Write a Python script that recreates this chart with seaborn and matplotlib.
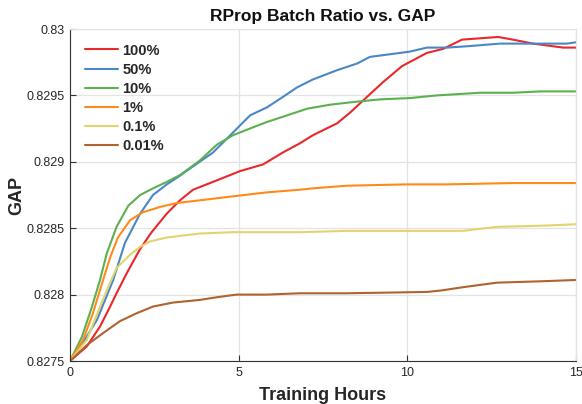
import numpy as np
import pandas as pd
import matplotlib
matplotlib.use("Agg")
import matplotlib.pyplot as plt
import seaborn as sns

# ---- data ----
hours_100 = [0, 0.5, 0.89, 1.19, 1.38, 1.68, 2.07, 2.42, 2.87, 3.26, 3.65, 4.35, 5.04, 5.72, 6.31, 6.82,
             7.2, 7.92, 8.3, 8.81, 9.28, 9.84, 10.58, 11.06, 11.62, 12.16, 12.69, 13.13, 13.73, 14.62, 15]
gap_100 = [0.8275, 0.82761, 0.82776, 0.82791, 0.82801, 0.82816, 0.82834, 0.82847, 0.82861, 0.82871, 0.82879,
           0.82886, 0.82893, 0.82898, 0.82907, 0.82914, 0.8292, 0.82929, 0.82937, 0.82949, 0.8296, 0.82972,
           0.82982, 0.82985, 0.82992, 0.82993, 0.82994, 0.82992, 0.82989, 0.82986, 0.82986]

hours_50 = [0, 0.39, 0.8, 1.28, 1.63, 2.08, 2.46, 2.87, 3.17, 3.56, 4.24, 4.83, 5.34, 5.84, 6.32, 6.73,
            7.2, 7.92, 8.51, 8.89, 9.49, 10.08, 10.58, 11.18, 11.77, 12.75, 13.73, 14.73, 15]
gap_50 = [0.8275, 0.82764, 0.82781, 0.82811, 0.82839, 0.82861, 0.82875, 0.82883, 0.82888, 0.82895, 0.82907,
          0.82922, 0.82935, 0.82941, 0.82949, 0.82956, 0.82962, 0.82969, 0.82974, 0.82979, 0.82981, 0.82983,
          0.82986, 0.82986, 0.82987, 0.82989, 0.82989, 0.82989, 0.8299]

hours_10 = [0, 0.35, 0.64, 0.89, 1.09, 1.38, 1.73, 2.08, 2.46, 2.88, 3.26, 3.85, 4.36, 4.83, 5.43, 5.84,
            6.32, 7.03, 7.71, 8.39, 9.19, 10.08, 10.88, 12.16, 13.13, 13.93, 15]
gap_10 = [0.8275, 0.82768, 0.8279, 0.82811, 0.82831, 0.82851, 0.82867, 0.82875, 0.8288, 0.82885, 0.8289,
          0.82901, 0.82913, 0.8292, 0.82926, 0.8293, 0.82934, 0.8294, 0.82943, 0.82945, 0.82947, 0.82948,
          0.8295, 0.82952, 0.82952, 0.82953, 0.82953]

hours_1 = [0, 0.39, 0.68, 0.98, 1.19, 1.42, 1.78, 2.16, 2.67, 3.17, 3.85, 4.83, 5.84, 6.82, 7.2, 8.21,
           9.99, 11.18, 13.13, 15]
gap_1 = [0.8275, 0.82766, 0.82786, 0.82811, 0.82828, 0.82843, 0.82856, 0.82862, 0.82866, 0.82869, 0.82871,
         0.82874, 0.82877, 0.82879, 0.8288, 0.82882, 0.82883, 0.82883, 0.82884, 0.82884]

hours_01 = [0, 0.5, 0.89, 1.19, 1.38, 1.78, 2.08, 2.37, 2.87, 3.85, 4.83, 6.82, 8.21, 9.99, 11.65, 12.66,
            14.14, 15]
gap_01 = [0.8275, 0.82766, 0.82791, 0.82809, 0.8282, 0.8283, 0.82836, 0.8284, 0.82843, 0.82846, 0.82847,
          0.82847, 0.82848, 0.82848, 0.82848, 0.82851, 0.82852, 0.82853]

hours_001 = [0, 0.5, 0.98, 1.48, 1.98, 2.46, 3.05, 3.85, 4.35, 4.94, 5.83, 6.82, 8.21, 10.58, 10.97, 11.77,
             12.66, 13.93, 15]
gap_001 = [0.8275, 0.82762, 0.82771, 0.8278, 0.82786, 0.82791, 0.82794, 0.82796, 0.82798, 0.828, 0.828,
           0.82801, 0.82801, 0.82802, 0.82803, 0.82806, 0.82809, 0.8281, 0.82811]

series_names = ["100%", "50%", "10%", "1%", "0.1%", "0.01%"]
series_hours = [hours_100, hours_50, hours_10, hours_1, hours_01, hours_001]
series_gap = [gap_100, gap_50, gap_10, gap_1, gap_01, gap_001]

x_ticks = [0, 5, 10, 15]
y_ticks = [0.8275, 0.828, 0.8285, 0.829, 0.8295, 0.83]
y_tick_labels = ["0.8275", "0.828", "0.8285", "0.829", "0.8295", "0.83"]

colors = ["#e8282a", "#4a87c6", "#5cb04e", "#ff8a1c", "#e2d46c", "#b0622f"]

# ---- build long-form frame ----
frames = []
for name, hx, gy in zip(series_names, series_hours, series_gap):
    frames.append(pd.DataFrame({"Training Hours": hx, "GAP": gy, "Batch": name}))
df = pd.concat(frames, ignore_index=True)

sns.set_theme(style="white")
plt.rcParams["font.family"] = ["Liberation Sans", "DejaVu Sans"]

fig = plt.figure(figsize=(5.82, 4.04), dpi=100)
ax = fig.add_axes([70 / 582, 1 - 361 / 404, 506 / 582, 332 / 404])

sns.lineplot(data=df, x="Training Hours", y="GAP", hue="Batch", hue_order=series_names,
             palette=colors, linewidth=1.5, ax=ax, estimator=None, sort=True)

ax.set_xlim(0, 15)
ax.set_ylim(0.8275, 0.83)
ax.set_xticks(x_ticks)
ax.set_xticklabels([str(t) for t in x_ticks])
ax.set_yticks(y_ticks)
ax.set_yticklabels(y_tick_labels)
ax.grid(True, color="#e3e3e3", linewidth=0.9)
ax.set_axisbelow(True)

for side in ["left", "bottom"]:
    ax.spines[side].set_color("#333333")
    ax.spines[side].set_linewidth(0.8)
for side in ["top", "right"]:
    ax.spines[side].set_color("#e3e3e3")
    ax.spines[side].set_linewidth(0.9)

ax.tick_params(axis="both", direction="in", length=4, width=0.8, colors="#333333",
               labelsize=9, labelcolor="#262626", pad=4)
ax.tick_params(top=False, right=False, bottom=True, left=True)

ax.set_xlabel("Training Hours", fontsize=13, fontweight="bold", color="#262626", labelpad=6)
ax.set_ylabel("GAP", fontsize=13, fontweight="bold", color="#262626", labelpad=1)
ax.set_title("RProp Batch Ratio vs. GAP", fontsize=12.5, fontweight="bold", color="#111111", pad=6)

leg = ax.legend(loc="upper left", frameon=False, handlelength=2.3, handletextpad=0.3,
                labelspacing=0.35, borderaxespad=0.6, prop={"weight": "bold", "size": 10.5})

fig.savefig("out.png", dpi=100)
